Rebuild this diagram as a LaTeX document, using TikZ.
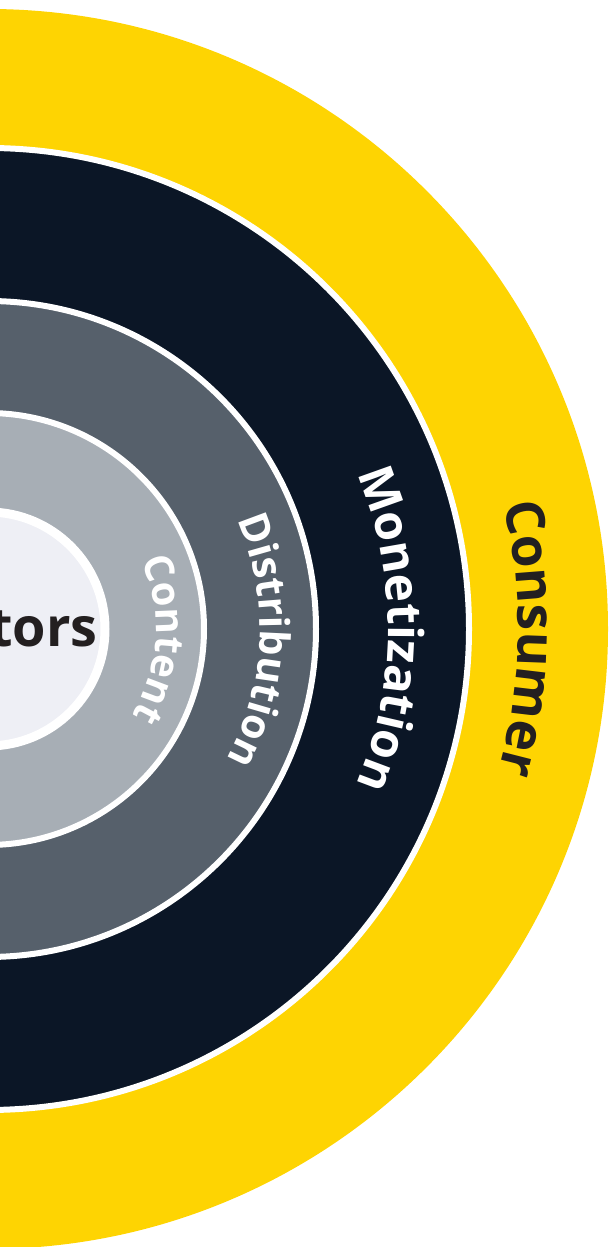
\documentclass[tikz,border=0pt]{standalone}
\usepackage{fontspec}
\setmainfont{Open Sans}
\usetikzlibrary{decorations.text}
\definecolor{consY}{HTML}{FED402}
\definecolor{monN}{HTML}{0B1626}
\definecolor{disG}{HTML}{56606B}
\definecolor{conG}{HTML}{A7AEB5}
\definecolor{creW}{HTML}{EEEFF5}
\definecolor{inkD}{HTML}{231F20}
\newcommand{\labfont}[1]{\fontsize{#1}{#1}\selectfont\bfseries}
\tikzset{
  ring/.style={draw=white, line width=6pt},
  arclab/.style={decorate, decoration={text along path, text align=center, text color=#1}},
}
\begin{document}
\begin{tikzpicture}[x=1pt,y=1pt]
\useasboundingbox (0,0) rectangle (609,1247);
\clip (0,0) rectangle (609,1247);
\coordinate (ctr) at (-12,618);

% ===================== rings, outermost first =====================
\fill[consY] (ctr) circle[radius=620];
\draw[ring, fill=monN] (ctr) circle[radius=481];
\draw[ring, fill=disG] (ctr) circle[radius=328];
\draw[ring, fill=conG] (ctr) circle[radius=216];
\draw[ring, line width=9pt, fill=creW] (ctr) circle[radius=117];

% ===================== ring labels (read downwards) =====================
\path[arclab=inkD, decoration={text={|\labfont{53}|Consumer}}]
  (ctr) ++(44:530) arc[start angle=44, end angle=-46, radius=530];
\path[arclab=white, decoration={text={|\labfont{48}|Monetization}}]
  (ctr) ++(45:400) arc[start angle=45, end angle=-45, radius=400];
\path[arclab=white, decoration={text={|\labfont{41}|Distribution}}]
  (ctr) ++(43:272) arc[start angle=43, end angle=-48, radius=272];
\path[arclab=white, decoration={text={|\labfont{40}|Content}}]
  (ctr) ++(42:168) arc[start angle=42, end angle=-49, radius=168];

% centre label, cut by the left edge
\node[inner sep=0pt, anchor=base east, text=inkD, font=\labfont{54}] (creators) at (98,600) {Creators};
\end{tikzpicture}
\end{document}
